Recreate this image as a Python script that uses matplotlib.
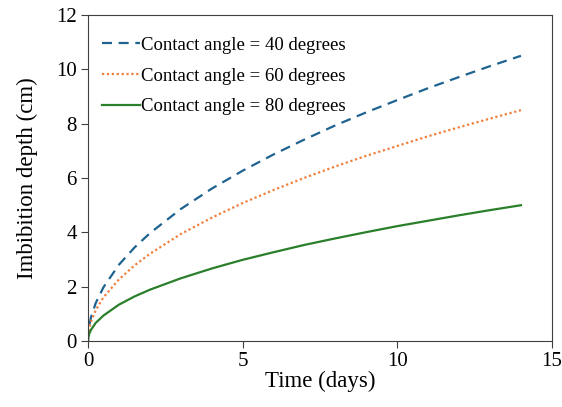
import matplotlib.pyplot as plt

plt.rcParams['font.family'] = ['Liberation Serif', 'DejaVu Serif']

# Values
time_days = [0, 0.005, 0.02, 0.05, 0.1, 0.25, 0.5, 1, 1.5, 2, 3, 4, 5, 6, 7, 8, 9, 10, 11, 12, 13, 14]
angle_40 = [0, 0.20, 0.40, 0.63, 0.89, 1.40, 1.98, 2.81, 3.44, 3.97, 4.86, 5.61, 6.27, 6.87, 7.42,
            7.94, 8.42, 8.87, 9.31, 9.72, 10.12, 10.5]
angle_60 = [0, 0.16, 0.32, 0.51, 0.72, 1.14, 1.61, 2.27, 2.78, 3.21, 3.94, 4.54, 5.08, 5.56, 6.01,
            6.43, 6.82, 7.18, 7.54, 7.87, 8.19, 8.5]
angle_80 = [0, 0.09, 0.19, 0.30, 0.42, 0.67, 0.94, 1.34, 1.64, 1.89, 2.31, 2.67, 2.99, 3.27, 3.54,
            3.78, 4.01, 4.23, 4.43, 4.63, 4.82, 5.0]

fig = plt.figure(figsize=(5.62, 4.07), dpi=100)
ax = fig.add_axes([0.1566, 0.162, 0.8254, 0.801])

ax.plot(time_days, angle_40, color='#1F6391', linestyle=(0, (4.5, 3)), linewidth=1.6,
        label='Contact angle = 40 degrees')
ax.plot(time_days, angle_60, color='#F07F3C', linestyle=(0, (1, 1.2)), linewidth=1.6,
        label='Contact angle = 60 degrees')
ax.plot(time_days, angle_80, color='#2A7F2A', linestyle='-', linewidth=1.6,
        label='Contact angle = 80 degrees')

ax.set_xlim(0, 15)
ax.set_ylim(0, 12)
ax.set_xticks([0, 5, 10, 15])
ax.set_yticks([0, 2, 4, 6, 8, 10, 12])
ax.tick_params(labelsize=15, direction='out', length=5, color='#404040', pad=3)
for s in ax.spines.values():
    s.set_color('#404040')
ax.set_xlabel('Time (days)', fontsize=16.5, labelpad=0)
ax.set_ylabel('Imbibition depth (cm)', fontsize=16.5, labelpad=13)

ax.legend(loc='upper left', bbox_to_anchor=(-0.006, 0.985), frameon=False, fontsize=13.5,
          handlelength=2.0, handletextpad=0.1, labelspacing=0.72)

fig.savefig('out.png', dpi=100)
